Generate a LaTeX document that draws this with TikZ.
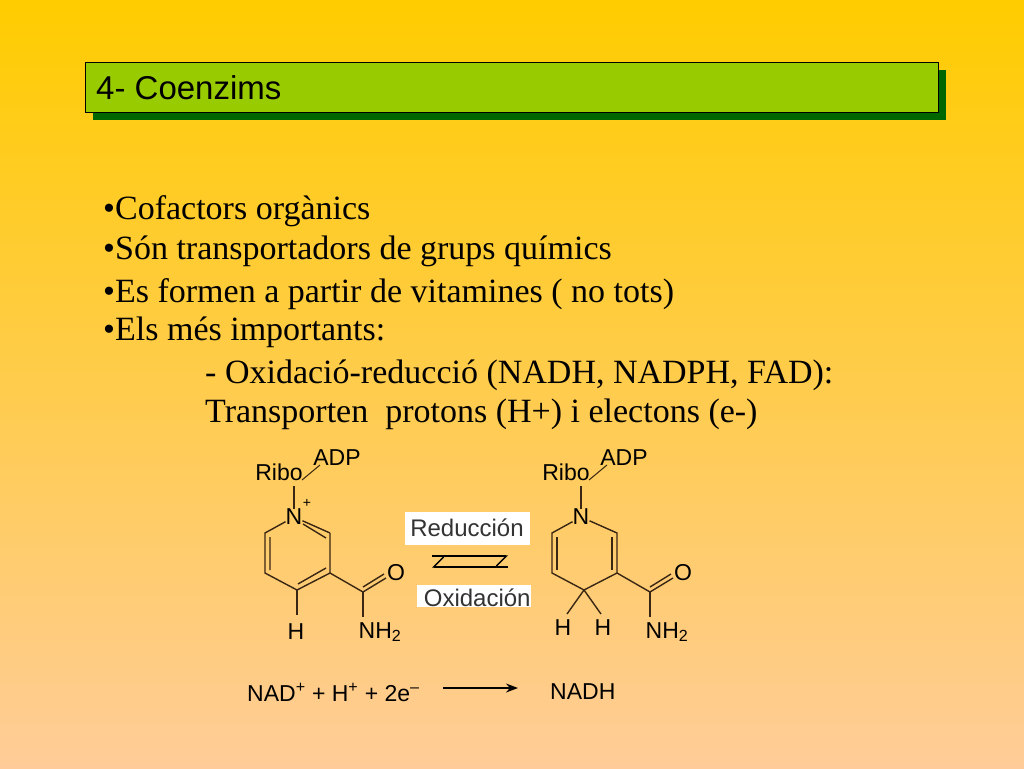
\documentclass[tikz,border=0pt]{standalone}
\usepackage{fontspec}
\usetikzlibrary{arrows.meta}
\setmainfont{Liberation Serif}
\newfontfamily\chemf{Liberation Sans}
\begin{document}
\begin{tikzpicture}[x=1pt,y=-1pt,
  bul/.style={anchor=west,inner sep=0,font=\fontsize{34}{36}\selectfont},
  lab/.style={inner sep=0,font=\chemf\fontsize{23}{24}\selectfont},
  bd/.style={draw=black!70!brown,line width=1.4pt},
  lbl/.style={fill=white,inner sep=0,font=\chemf\fontsize{24}{25}\selectfont,text=black!80}]
\useasboundingbox (0,0) rectangle (1024,768);
\shade[top color={rgb,255:red,255;green,204;blue,0},bottom color={rgb,255:red,255;green,204;blue,153}] (0,0) rectangle (1024,768);
\fill[green!40!black] (93,70) rectangle (946,120);
\node[draw=black,fill={rgb,255:red,153;green,204;blue,0},minimum width=853,minimum height=50,anchor=north west,inner sep=0] (title) at (85,62) {};
\node[anchor=west,inner sep=0,font=\chemf\fontsize{33}{34}\selectfont] (tt) at (96,88) {4- Coenzims};
\node[bul] (b1) at (103,211) {•Cofactors orgànics};
\node[bul] (b2) at (103,251) {•Són transportadors de grups químics};
\node[bul] (b3) at (103,294) {•Es formen a partir de vitamines ( no tots)};
\node[bul] (b4) at (103,332) {•Els més importants:};
\node[bul] (b5) at (205,375) {- Oxidació-reducció (NADH, NADPH, FAD):};
\node[bul] (b6) at (205,414) {Transporten\ \ protons (H+) i electons (e-)};
% left molecule
\begin{scope}
\node[lab] (rb1) at (279,472) {Ribo};
\node[lab] (ad1) at (337,458) {ADP};
\node[lab] (n1) at (294,517) {N};
\node[lab,font=\chemf\fontsize{14}{14}\selectfont] at (307,503) {+};
\draw[bd,line width=1pt] (302,480)--(320,465);
\draw[bd] (294,486)--(n1);
\draw[bd] (n1)--(330,533) (330,533)--(330,573)--(297,590)--(265,573)--(265,533)--(n1);
\draw[bd] (303,524)--(326,538) (270,537)--(270,570) (298,584)--(326,568);
\draw[bd] (297,590)--(297,615);
\node[lab] (h1) at (296,632) {H};
\draw[bd] (330,573)--(363,592)--(386,578) (363,587)--(384,574);
\node[lab] (o1) at (396,573) {O};
\draw[bd] (363,592)--(363,617);
\node[lab] (nh1) at (380,632) {NH\textsubscript{2}};
\end{scope}
% right molecule
\begin{scope}[xshift=287]
\node[lab] (rb2) at (279,472) {Ribo};
\node[lab] (ad2) at (337,458) {ADP};
\node[lab] (n2) at (294,517) {N};
\draw[bd,line width=1pt] (302,480)--(320,465);
\draw[bd] (294,486)--(n2);
\draw[bd] (n2)--(330,533)--(330,573)--(297,590)--(265,573)--(265,533)--(n2);
\draw[bd] (270,537)--(270,570) (325,537)--(325,570);
\draw[bd] (297,590)--(280,614) (297,590)--(314,614);
\node[lab] (h2) at (276,628) {H};
\node[lab] (h3) at (316,628) {H};
\draw[bd] (330,573)--(363,592)--(386,578) (363,587)--(384,574);
\node[lab] (o2) at (396,573) {O};
\draw[bd] (363,592)--(363,617);
\node[lab] (nh2) at (380,632) {NH\textsubscript{2}};
\end{scope}
\node[lbl,minimum width=125,minimum height=33] (red) at (467,528) {Reducción};
\node[lbl,minimum width=110,minimum height=22,text depth=0,anchor=west] (ox) at (417,596) {\raisebox{-3pt}{\ Oxidación}};
\coordinate (a1) at (432,556); \coordinate (a2) at (508,556);
\coordinate (a3) at (508,567); \coordinate (a4) at (432,567);
\draw[line width=1.4pt,-{Straight Barb[right,length=10pt]}] (a1)--(a2);
\draw[line width=1.4pt,-{Straight Barb[right,length=10pt]}] (a3)--(a4);
\node[lab,anchor=west] (eq) at (247,692) {NAD\textsuperscript{+} + H\textsuperscript{+} + 2e\textsuperscript{–}};
\node[lab,anchor=west] (nadh) at (550,692) {NADH};
\draw[line width=1.4pt,-{Stealth[length=12pt]}] (443,688)--(518,688);
\end{tikzpicture}
\end{document}
